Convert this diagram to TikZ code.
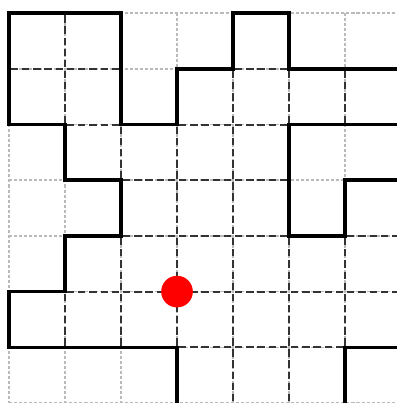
\documentclass[tikz,border=0pt]{standalone}
\begin{document}
\begin{tikzpicture}[x=1.6812cm,y=-1.6704cm,
  lightgrid/.style={line width=1.3pt, color=black!27, dash pattern=on 2.6pt off 1.7pt},
  innerline/.style={line width=1.8pt, color=black!80, dash pattern=on 6.3pt off 3.27pt, dash phase=7.9pt},
  border/.style={line width=3pt, black, line join=miter},
  spot/.style={circle, fill=red, draw=none, inner sep=0pt, minimum size=0.95cm}]
\useasboundingbox (-0.1588,-0.2371) rectangle (6.9254,7.0007);
\clip (-0.1588,-0.2371) rectangle (6.9254,7.0007);
% background grid
\foreach \k in {0,...,7} {
  \draw[lightgrid] (\k,0) -- (\k,7.2);
  \draw[lightgrid] (0,\k) -- (7.2,\k);
}
% interior dashed lines (horizontal)
\foreach \i/\j in {0/1,1/1,4/1,1/2,3/2,4/2,2/3,3/3,4/3,2/4,3/4,4/4,6/4,1/5,2/5,3/5,4/5,5/5,6/5,3/6,4/6,5/6}
  \draw[innerline] (\i,\j) -- ++(1,0);
% interior dashed lines (vertical)
\foreach \i/\j in {1/0,1/1,4/1,5/1,6/1,2/2,3/2,4/2,3/3,4/3,2/4,3/4,4/4,5/4,6/4,1/5,2/5,3/5,4/5,5/5,6/5,4/6,5/6}
  \draw[innerline] (\i,\j) -- ++(0,1);
% boundaries
\draw[border] (7.3,1) -- (5,1) -- (5,0) -- (4,0) -- (4,1) -- (3,1) -- (3,2) -- (2,2) -- (2,0) -- (0,0)
  -- (0,2) -- (1,2) -- (1,3) -- (2,3) -- (2,4) -- (1,4) -- (1,5) -- (0,5) -- (0,6) -- (3,6) -- (3,7.3);
\draw[border] (7.3,2) -- (5,2) -- (5,4) -- (6,4) -- (6,3) -- (7.3,3);
\draw[border] (6,7.3) -- (6,6) -- (7.3,6);
% red point
\node[spot] (dot) at (3,5) {};
\end{tikzpicture}
\end{document}
